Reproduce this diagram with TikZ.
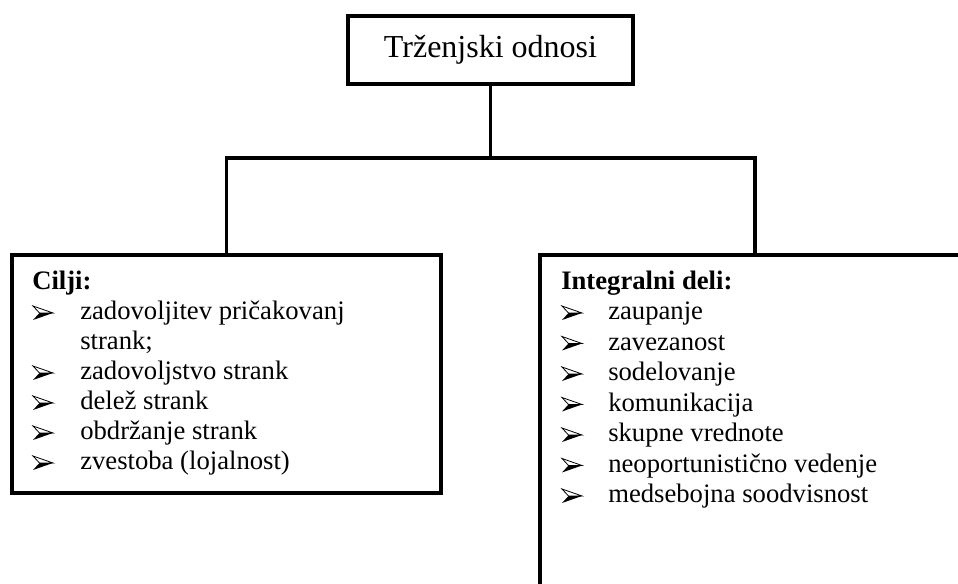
\documentclass[tikz,border=0pt]{standalone}
\usepackage{fontspec}
\setmainfont{Liberation Serif}
\begin{document}
\begin{tikzpicture}[x=0.75pt,y=-0.75pt,
  frame/.style={draw, line width=3pt, line join=miter, inner sep=0pt},
  link/.style={line width=2.5pt, line join=miter},
  item/.style={anchor=base west, inner sep=0pt, font=\fontsize{20}{22.7}\selectfont},
  head/.style={item, font=\fontsize{20}{22.7}\selectfont\bfseries},
  arrowbullet/.pic={
    % lower face filled, upper face outlined
    \fill (6.5,-7) -- (20,-7) -- (0,0) -- cycle;
    \filldraw[fill=white, line width=0.6pt, line join=miter]
      (0,-14) -- (20,-7) -- (6.5,-7) -- cycle;
  }]
\useasboundingbox (0,0) rectangle (958,584);
\clip (0,0) rectangle (958,584);

% boxes
\node[frame, minimum width=213.75pt, minimum height=51pt,
      font=\fontsize{24}{28}\selectfont] (title) at (490.5,50) {Trženjski odnosi};
\node[frame, minimum width=321.75pt, minimum height=178.5pt] (leftbox) at (226.5,374) {};
\node[frame, minimum width=322.5pt, minimum height=300pt] (rightbox) at (755,455) {};

% connectors
\coordinate (bus) at (490.5,158);
\draw[link] (title.south) -- (bus);
\draw[link] (leftbox.north) |- (rightbox.north |- bus) -- (rightbox.north);

% left list
\node[head] (cilji) at (32,290) {Cilji:};
\node[item] (l1) at (80,320) {zadovoljitev pričakovanj};
\node[item] (l1b) at (80,350) {strank;};
\node[item] (l2) at (80,380) {zadovoljstvo strank};
\node[item] (l3) at (80,410) {delež strank};
\node[item] (l4) at (80,440) {obdržanje strank};
\node[item] (l5) at (80,470) {zvestoba (lojalnost)};
\foreach \y in {320,380,410,440,470} \pic at (33,\y) {arrowbullet};

% right list
\node[head] (deli) at (561,290) {Integralni deli:};
\node[item] (r1) at (608,320) {zaupanje};
\node[item] (r2) at (608,350.5) {zavezanost};
\node[item] (r3) at (608,381) {sodelovanje};
\node[item] (r4) at (608,411.5) {komunikacija};
\node[item] (r5) at (608,442) {skupne vrednote};
\node[item] (r6) at (608,472.5) {neoportunistično vedenje};
\node[item] (r7) at (608,503) {medsebojna soodvisnost};
\foreach \y in {320,350.5,381,411.5,442,472.5,503} \pic at (562,\y) {arrowbullet};
\end{tikzpicture}
\end{document}
